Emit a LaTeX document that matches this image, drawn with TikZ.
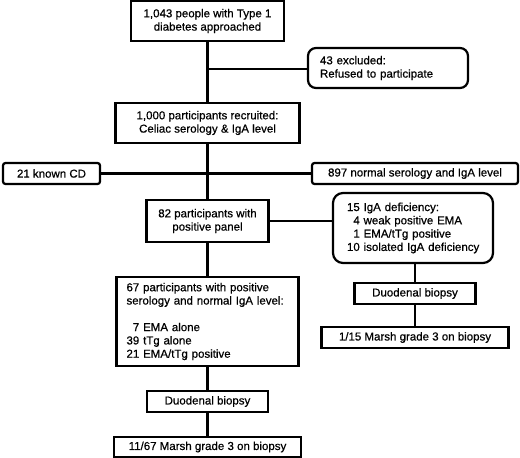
\documentclass[tikz,border=0pt]{standalone}
\usepackage{fontspec}
\setmainfont{Liberation Sans}[FakeBold=0.6]
\begin{document}
\begin{tikzpicture}[x=1pt,y=1pt,
  every node/.style={font=\fontsize{11.5}{13.3}\selectfont},
  box/.style={draw, line width=2.2pt, rectangle, inner sep=0pt, align=center},
  rbox/.style={box, rounded corners=8pt},
  sbox/.style={box, rounded corners=2.5pt},
  link/.style={line width=2.2pt}]
\useasboundingbox (0,0) rectangle (520,-458);
\node[box, minimum width=153pt, minimum height=40pt] (b1) at (207.5,-21) {1,043 people with Type 1\\diabetes approached};
\node[rbox, minimum width=160pt, minimum height=40pt, text width=136pt, inner xsep=12pt, align=left] (excl) at (388,-68) {43 excluded:\\Refused to participate};
\node[box, minimum width=184pt, minimum height=40pt] (b2) at (207.5,-123) {1,000 participants recruited:\\Celiac serology \& IgA level};
\node[sbox, minimum width=97pt, minimum height=21pt] (cd) at (51.5,-173.5) {21 known CD};
\node[sbox, minimum width=206pt, minimum height=21pt] (nrm) at (415,-173.5) {897 normal serology and IgA level};
\node[box, minimum width=122pt, minimum height=42pt] (b82) at (207.5,-221) {82 participants with\\positive panel};
\node[rbox, rounded corners=10pt, minimum width=160pt, minimum height=70pt, text width=132pt, inner xsep=14pt, align=left] (iga) at (413,-228) {15 IgA deficiency:\\\phantom{1}4 weak positive EMA\\\phantom{1}1 EMA/tTg positive\\\mbox{10 isolated IgA deficiency}};
\node[box, minimum width=182pt, minimum height=89pt, text width=162pt, inner xsep=10pt, align=left] (b67) at (207.5,-321.5) {67 participants with positive\\serology and normal IgA level:\\[13.3pt]\phantom{3}7 EMA alone\\39 tTg alone\\21 EMA/tTg positive};
\node[box, minimum width=121pt, minimum height=21pt] (bd1) at (207.5,-401.5) {Duodenal biopsy};
\node[box, minimum width=187pt, minimum height=20pt] (m1) at (207.5,-447) {11/67 Marsh grade 3 on biopsy};
\node[box, minimum width=121pt, minimum height=21pt] (bd2) at (415,-293.5) {Duodenal biopsy};
\node[box, minimum width=187pt, minimum height=21pt] (m2) at (415,-337.5) {1/15 Marsh grade 3 on biopsy};
\coordinate (j1) at (207.5,-69);
\draw[link] (b1) -- (b2);
\draw[link] (j1) -- (j1 -| excl.west);
\draw[link] (b2) -- (b82);
\draw[link] (cd) -- (nrm);
\draw[link] (b82) -- (b67);
\draw[link] (b82.east) -- (b82.east -| iga.west);
\draw[link] (b67) -- (bd1);
\draw[link] (bd1) -- (m1);
\draw[link] (bd2 |- iga.south) -- (bd2);
\draw[link] (bd2) -- (m2);
\end{tikzpicture}
\end{document}
